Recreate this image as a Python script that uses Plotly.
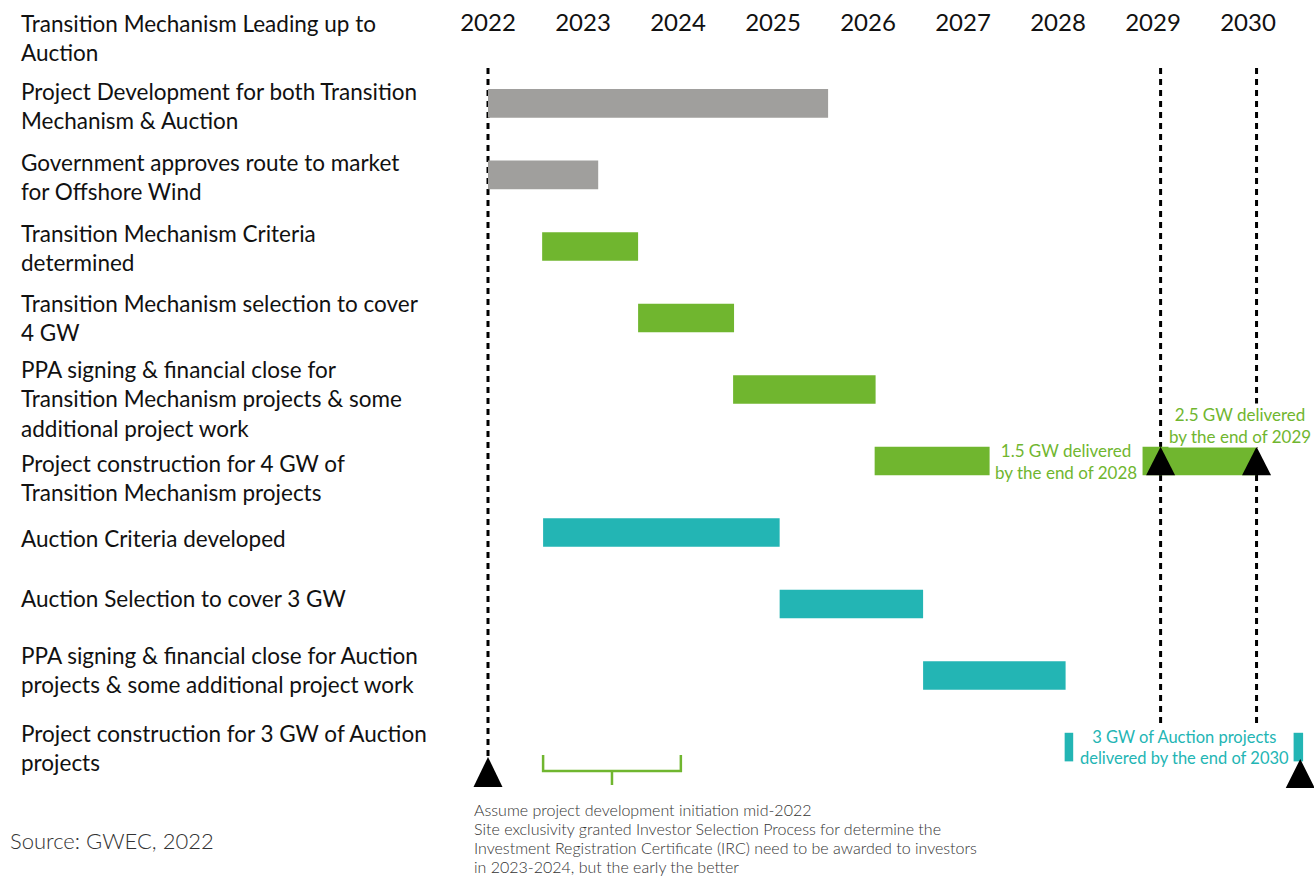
import plotly.graph_objects as go

W, H = 1314, 878

# ---------------- data ----------------
HEADER = "Transition Mechanism Leading up to<br>Auction"
TASKS = [
    "Project Development for both Transition<br>Mechanism & Auction",
    "Government approves route to market<br>for Offshore Wind",
    "Transition Mechanism Criteria<br>determined",
    "Transition Mechanism selection to cover<br>4 GW",
    "PPA signing & financial close for<br>Transition Mechanism projects & some<br>additional project work",
    "Project construction for 4 GW of<br>Transition Mechanism projects",
    "Auction Criteria developed",
    "Auction Selection to cover 3 GW",
    "PPA signing & financial close for Auction<br>projects & some additional project work",
    "Project construction for 3 GW of Auction<br>projects",
]
YEARS = [2022, 2023, 2024, 2025, 2026, 2027, 2028, 2029, 2030]
YEAR_LABELS = [str(y) for y in YEARS]

# segments: task index, start (year), end (year), phase
SEG_TASK = [0, 1, 2, 3, 4, 5, 5, 6, 7, 8, 9, 9]
SEG_START = [2022.00, 2022.00, 2022.57, 2023.58, 2024.58, 2026.07, 2028.89,
             2022.58, 2025.07, 2026.58, 2028.07, 2030.48]
SEG_END = [2025.58, 2023.16, 2023.58, 2024.59, 2026.08, 2027.28, 2030.09,
           2025.07, 2026.58, 2028.08, 2028.16, 2030.58]
SEG_PHASE = ["prep", "prep", "tm", "tm", "tm", "tm", "tm",
             "auc", "auc", "auc", "auc", "auc"]

# milestones (dashed lines) and delivery markers
MILESTONE_X = [2022.00, 2029.08, 2030.09]
DELIVERY_X = [2029.08, 2030.09]          # on TM construction row
START_MARK_X = 2022.00                   # bottom marker
END_MARK_X = 2030.55                     # auction delivery marker
BRACE_X = [2022.58, 2024.03]             # IRC award window

NOTE_15 = "1.5 GW delivered<br>by the end of 2028"
NOTE_25 = "2.5 GW delivered<br>by the end of 2029"
NOTE_3 = "3 GW of Auction projects<br>delivered by the end of 2030"
FOOT_LINES = [
    "Assume project development initiation mid-2022",
    "Site exclusivity granted Investor Selection Process for determine the",
    "Investment Registration Certificate (IRC) need to be awarded to investors",
    "in 2023-2024, but the early the better",
]
SOURCE = "Source: GWEC, 2022"

# ---------------- style / layout ----------------
COLORS = {"prep": "#A09F9D", "tm": "#70B62F", "auc": "#23B5B4"}
FONT = "Lato, 'Noto Sans', sans-serif"
TXT = "#111111"
# small vertical nudges (px, positive = down) for the row labels
LABEL_NUDGE = [2, 1, 1, -1, 9, 16, 5, -7, -7, 0]

T_MARGIN = 45
PX_PER_YEAR = 95.0
X2022_PX = 488.0
ROW0_PX, ROW_STEP_PX = 103.4, 71.52
unit = ROW_STEP_PX
plot_h = H - T_MARGIN
y_top = -(ROW0_PX - T_MARGIN) / unit
y_bot = y_top + plot_h / unit


def py2y(py):
    return (py - ROW0_PX) / unit


def py2paper(py):
    return (H - py) / plot_h


def px2paper(px):
    return px / W


x_lo = 2022 - X2022_PX / PX_PER_YEAR
x_hi = x_lo + W / PX_PER_YEAR

fig = go.Figure()
for phase in ["prep", "tm", "auc"]:
    idx = [i for i, p in enumerate(SEG_PHASE) if p == phase]
    fig.add_trace(go.Bar(
        orientation="h",
        y=[TASKS[SEG_TASK[i]] for i in idx],
        x=[SEG_END[i] - SEG_START[i] for i in idx],
        base=[SEG_START[i] for i in idx],
        width=0.4,
        marker=dict(color=COLORS[phase], line=dict(width=0)),
        hoverinfo="skip",
        showlegend=False,
    ))

shapes = []
# dashed milestone lines
for k, mx in enumerate(MILESTONE_X):
    y1 = py2y(757) if k == 0 else py2y(724)
    shapes.append(dict(type="line", xref="x", yref="y", x0=mx, x1=mx,
                       y0=py2y(68), y1=y1, layer="below",
                       line=dict(color="black", width=3, dash="6px,5px")))

hw = 14.5 / PX_PER_YEAR


def tri(x, yb, ya):
    return dict(type="path", xref="x", yref="y",
                path=f"M {x-hw},{yb} L {x+hw},{yb} L {x},{ya} Z",
                fillcolor="black", line=dict(width=0))


for dx in DELIVERY_X:
    shapes.append(tri(dx, 5 + 0.2, 5 - 0.2))
shapes.append(tri(START_MARK_X, py2y(787), py2y(757)))
shapes.append(tri(END_MARK_X, py2y(788), py2y(759)))

# bracket
bx0, bx1 = BRACE_X
bm = (bx0 + bx1) / 2
yt, yh, ys = py2y(755), py2y(771), py2y(785)
shapes.append(dict(type="path", xref="x", yref="y",
                   path=(f"M {bx0},{yt} L {bx0},{yh} L {bx1},{yh} L {bx1},{yt} "
                         f"M {bm},{yh} L {bm},{ys}"),
                   line=dict(color="#70B62F", width=2.5)))

annotations = []
# header
annotations.append(dict(text=HEADER, xref="paper", yref="paper",
                        x=px2paper(19), y=py2paper(8), xanchor="left",
                        yanchor="top", align="left", showarrow=False,
                        font=dict(family=FONT, size=22.5, color=TXT)))
# task labels
for t, nudge in zip(TASKS, LABEL_NUDGE):
    annotations.append(dict(text=t, xref="paper", yref="y", x=px2paper(19),
                            y=t, xanchor="left", yanchor="middle",
                            align="left", showarrow=False, yshift=-1 - nudge,
                            font=dict(family=FONT, size=22.5, color=TXT)))
# notes
annotations.append(dict(text=NOTE_15, xref="x", yref="y",
                        x=2028.08, y=TASKS[5], yshift=0, showarrow=False,
                        align="center",
                        font=dict(family=FONT, size=17, color="#70B62F")))
annotations.append(dict(text=NOTE_25, xref="x", yref="y",
                        x=2029.92, y=TASKS[5], yshift=36, showarrow=False,
                        align="center", bgcolor="white", borderpad=0,
                        font=dict(family=FONT, size=17, color="#70B62F")))
annotations.append(dict(text=NOTE_3, xref="x", yref="y",
                        x=2029.33, y=TASKS[9], yshift=0, showarrow=False,
                        align="center",
                        font=dict(family=FONT, size=16.5, color="#23B5B4")))
FOOT_Y0, FOOT_DY = 809, 19.3
for j, line in enumerate(FOOT_LINES):
    annotations.append(dict(text=line, xref="paper", yref="paper",
                            x=px2paper(472), y=py2paper(FOOT_Y0 + j * FOOT_DY),
                            xanchor="left", yanchor="middle", align="left",
                            showarrow=False,
                            font=dict(family=FONT, size=16, color="#333333",
                                      weight=300)))
annotations.append(dict(text=SOURCE, xref="paper", yref="paper",
                        x=px2paper(8), y=py2paper(840), xanchor="left",
                        yanchor="middle", align="left", showarrow=False,
                        font=dict(family=FONT, size=22, color="#333333",
                                  weight=300)))

fig.update_layout(
    width=W, height=H,
    margin=dict(l=0, r=0, t=T_MARGIN, b=0, pad=0),
    paper_bgcolor="white", plot_bgcolor="white",
    barmode="overlay",
    showlegend=False,
    xaxis=dict(range=[x_lo, x_hi], side="top", tickvals=YEARS,
               ticktext=YEAR_LABELS, showgrid=False, zeroline=False,
               showline=False, ticks="", fixedrange=True,
               ticklabelstandoff=8,
               tickfont=dict(family=FONT, size=24, color=TXT)),
    yaxis=dict(type="category", categoryorder="array", categoryarray=TASKS,
               range=[y_bot, y_top], visible=False, fixedrange=True),
    shapes=shapes,
    annotations=annotations,
)

fig.write_html("out.html")
